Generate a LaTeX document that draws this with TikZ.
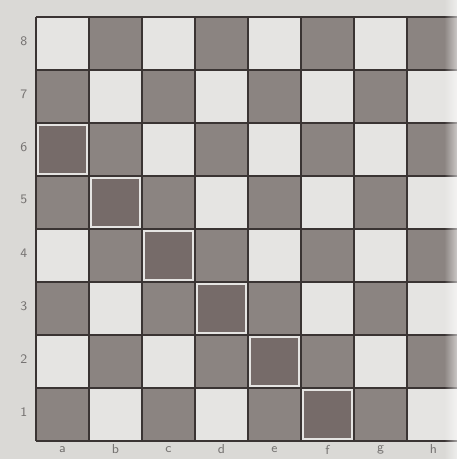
\documentclass[tikz,border=0pt]{standalone}
\usepackage{xcolor}
\usepackage{tikz}
\usetikzlibrary{fadings}

\definecolor{paper}{HTML}{DAD9D6}
\definecolor{lightsq}{HTML}{E5E4E2}
\definecolor{darksq}{HTML}{8B8481}
\definecolor{marksq}{HTML}{766B69}
\definecolor{gridline}{HTML}{3A3433}
\definecolor{labelgray}{HTML}{767372}
\tikzfading[name=fadeedge, left color=transparent!100, right color=transparent!0]

\begin{document}
\begin{tikzpicture}[x=0.931cm,y=0.931cm,
    lightfill/.style={fill=lightsq},
    darkfill/.style={fill=darksq},
    markfill/.style={fill=marksq},
    gridpen/.style={draw=gridline, line width=1.4pt},
    coordlabel/.style={text=labelgray, font=\sffamily\fontsize{6.5}{7}\selectfont, inner sep=0pt}]
  \useasboundingbox (-0.679,-0.34) rectangle (7.943,8.321);
  \clip (-0.679,-0.34) rectangle (7.943,8.321);
  \fill[paper] (-0.679,-0.34) rectangle (7.943,8.321);

  % squares
  \foreach \i in {0,...,7}
    \foreach \j in {0,...,7}{
      \pgfmathtruncatemacro\sqpar{mod(\i+\j,2)}
      \ifnum\sqpar=0
        \fill[darkfill] (\i,\j) rectangle ++(1,1);
      \else
        \fill[lightfill] (\i,\j) rectangle ++(1,1);
      \fi
    }

  % marked diagonal a6 -- f1
  \foreach \i in {0,...,5}{
    \pgfmathtruncatemacro\jj{5-\i}
    \fill[markfill] (\i+0.06,\jj+0.06) rectangle ++(0.88,0.88);
  }

  % grid
  \foreach \k in {0,...,8}{
    \draw[gridpen] (\k,0) -- (\k,8);
    \draw[gridpen] (0,\k) -- (8,\k);
  }

  % labels
  \foreach \r in {1,...,8}
    \node[coordlabel] (rank\r) at (-0.23,\r-0.45) {\r};
  \foreach \f [count=\c from 0] in {a,b,c,d,e,f,g,h}
    \node[coordlabel] (file\f) at (\c+0.5,-0.16) {\f};

  % faded page edge
  \fill[white, path fading=fadeedge, opacity=0.55] (7.7,-0.34) rectangle (7.943,8.321);
\end{tikzpicture}
\end{document}
